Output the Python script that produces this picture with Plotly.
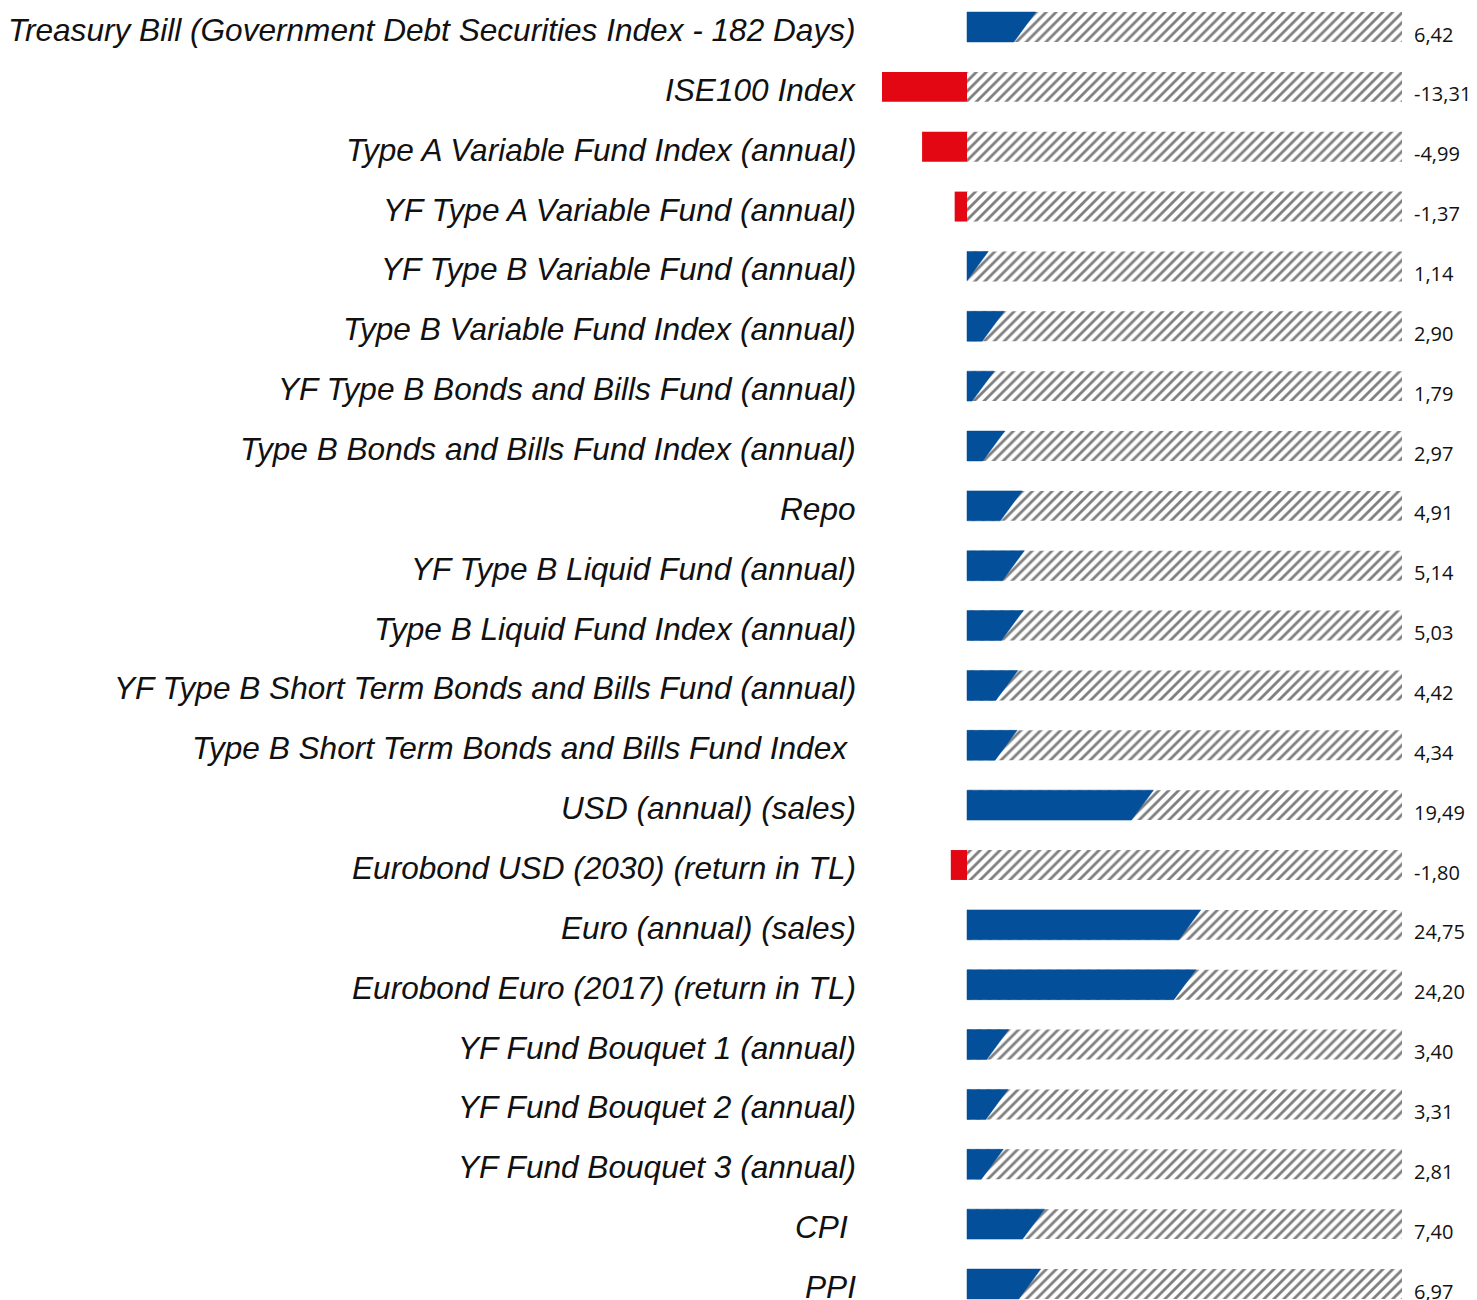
import plotly.graph_objects as go

categories = [
    "Treasury Bill (Government Debt Securities Index - 182 Days)",
    "ISE100 Index",
    "Type A Variable Fund Index (annual)",
    "YF Type A Variable Fund (annual)",
    "YF Type B Variable Fund (annual)",
    "Type B Variable Fund Index (annual)",
    "YF Type B Bonds and Bills Fund (annual)",
    "Type B Bonds and Bills Fund Index (annual)",
    "Repo",
    "YF Type B Liquid Fund (annual)",
    "Type B Liquid Fund Index (annual)",
    "YF Type B Short Term Bonds and Bills Fund (annual)",
    "Type B Short Term Bonds and Bills Fund Index\u00a0",
    "USD (annual) (sales)",
    "Eurobond USD (2030) (return in TL)",
    "Euro (annual) (sales)",
    "Eurobond Euro (2017) (return in TL)",
    "YF Fund Bouquet 1 (annual)",
    "YF Fund Bouquet 2 (annual)",
    "YF Fund Bouquet 3 (annual)",
    "CPI\u00a0",
    "PPI",
]

values = [6.42, -13.31, -4.99, -1.37, 1.14, 2.90, 1.79, 2.97, 4.91, 5.14, 5.03,
          4.42, 4.34, 19.49, -1.80, 24.75, 24.20, 3.40, 3.31, 2.81, 7.40, 6.97]

# styling constants (page body has an 8px margin, compensate)
OFF = 8
W, H = 1477 - OFF, 1300 - OFF
PX_PER_UNIT = 9.0
ZERO_PX = 967 - OFF
LEFT_PX = 882 - OFF
RIGHT_PX = 1402 - OFF
LABEL_RIGHT_PX = 858 - OFF
X_MIN = -(ZERO_PX - LEFT_PX) / PX_PER_UNIT
X_MAX = (RIGHT_PX - ZERO_PX) / PX_PER_UNIT
TRACK = X_MAX
BLUE = "#034F99"
RED = "#E30613"
BAR_W = 0.5
SLANT = 11 / PX_PER_UNIT

n = len(categories)
ypos = list(range(n))
row_px = 59.86
first_px = 27 - OFF
last_px = 1284 - OFF
y_top = -first_px / row_px
y_bot = (n - 1) + (H - last_px) / row_px

fig = go.Figure()

# hatched track
fig.add_trace(go.Bar(
    x=[TRACK] * n, y=ypos, base=0, orientation="h", width=BAR_W,
    marker=dict(color="white", line=dict(width=0),
                pattern=dict(shape="/", fgcolor="#000000", bgcolor="white",
                             size=7, solidity=0.4)),
    hoverinfo="skip", showlegend=False,
))

# negative bars (red)
neg_y = [i for i, v in zip(ypos, values) if v < 0]
neg_v = [v for v in values if v < 0]
fig.add_trace(go.Bar(
    x=neg_v, y=neg_y, base=0, orientation="h", width=BAR_W,
    marker=dict(color=RED, line=dict(width=0)),
    showlegend=False,
))

# positive bars (blue, slanted right edge)
px_, py_ = [], []
for i, v in zip(ypos, values):
    if v <= 0:
        continue
    top, bot = i - BAR_W / 2, i + BAR_W / 2
    xr_top, xr_bot = v + SLANT, v - SLANT
    if xr_bot >= 0:
        xs = [0, xr_top, xr_bot, 0, 0]
        ys = [top, top, bot, bot, top]
    else:
        t = xr_top / (xr_top - xr_bot)
        xs = [0, xr_top, 0, 0]
        ys = [top, top, top + t * (bot - top), top]
    px_ += xs + [None]
    py_ += ys + [None]
fig.add_trace(go.Scatter(
    x=px_, y=py_, mode="lines", fill="toself", fillcolor=BLUE,
    line=dict(color=BLUE, width=0.5), hoverinfo="skip", showlegend=False,
))

annotations = []
for i, (c, v) in enumerate(zip(categories, values)):
    annotations.append(dict(
        x=0, xref="paper", y=i, yref="y", text=c, showarrow=False,
        xanchor="right", yanchor="middle", xshift=-(LEFT_PX - LABEL_RIGHT_PX), yshift=-3,
        font=dict(family="Liberation Sans", size=31.6, color="#111111", style="italic"),
    ))
    annotations.append(dict(
        x=X_MAX, xref="x", y=i, yref="y", text=f"{v:.2f}".replace(".", ","),
        showarrow=False, xanchor="left", yanchor="middle", xshift=10, yshift=-7,
        font=dict(family="Open Sans", size=20, color="#111111"),
    ))

fig.update_layout(
    width=W, height=H,
    margin=dict(l=LEFT_PX, r=W - RIGHT_PX, t=0, b=0, pad=0),
    paper_bgcolor="white", plot_bgcolor="white",
    barmode="overlay",
    xaxis=dict(range=[X_MIN, X_MAX], visible=False, fixedrange=True),
    yaxis=dict(range=[y_bot, y_top], visible=False, fixedrange=True),
    annotations=annotations,
)

fig.write_html("out.html")
